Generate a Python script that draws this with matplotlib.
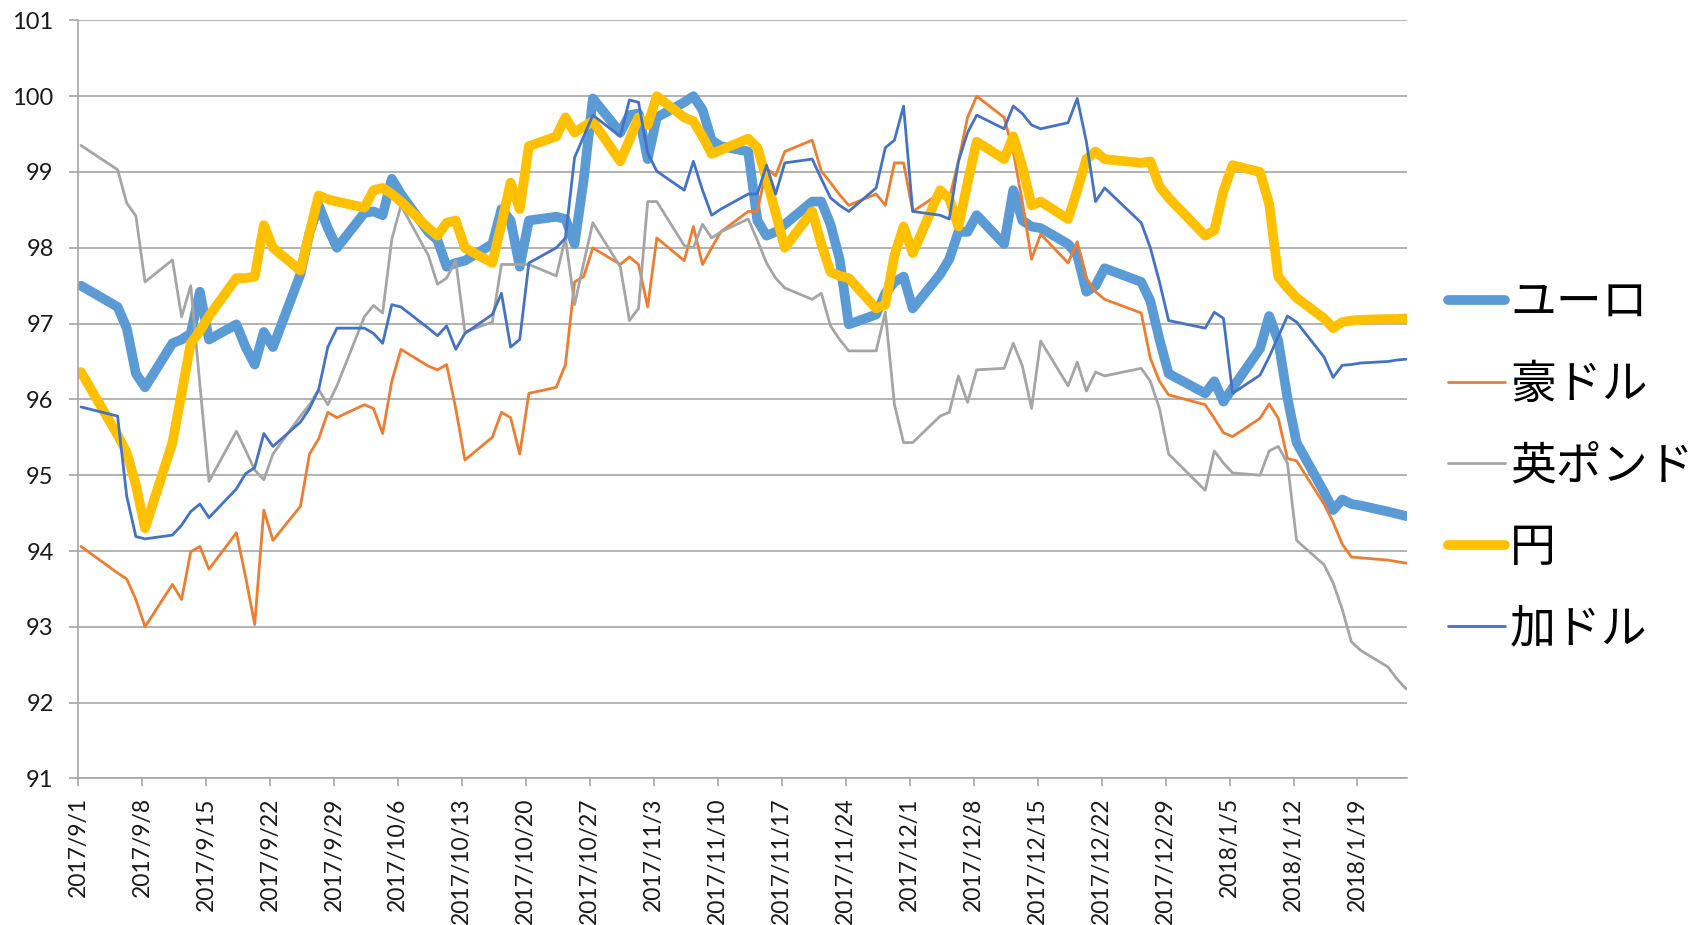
import matplotlib
matplotlib.use("Agg")
import matplotlib.pyplot as plt
import pandas as pd
from matplotlib.font_manager import FontProperties

plt.rcParams['font.family'] = ['Lato', 'Noto Sans CJK JP', 'DejaVu Sans']

# business days shown (holidays 9/4, 12/25, 1/1 absent)
dates = pd.bdate_range("2017-09-01", "2018-01-24").drop(
    pd.to_datetime(["2017-09-04", "2017-12-25", "2018-01-01"]))

series_names = ["ユーロ", "豪ドル", "英ポンド", "円", "加ドル"]

euro = [
    97.50, 97.22, 96.94, 96.34, 96.16, 96.74, 96.79, 96.87, 97.42, 96.79, 96.99, 96.69, 96.46, 96.89, 96.69, 97.65, 98.20, 98.56, 98.26, 98.00,
    98.46, 98.48, 98.43, 98.91, 98.71, 98.21, 98.10, 97.75, 97.80, 97.83, 98.05, 98.51, 98.36, 97.75, 98.36, 98.41, 98.38, 98.05, 98.90, 99.97, 99.52, 99.75,
    99.77, 99.17, 99.72, 99.92, 100.00, 99.82, 99.42, 99.34, 99.27, 98.36, 98.16, 98.21, 98.31, 98.61, 98.61, 98.31, 97.85, 96.99, 97.12, 97.40, 97.55, 97.62,
    97.20, 97.65, 97.85, 98.21, 98.21, 98.43, 98.05, 98.76, 98.36, 98.28, 98.26, 98.05, 97.90, 97.42, 97.50, 97.73, 97.55, 97.30, 96.79, 96.34,
    96.08, 96.24, 95.97, 96.15, 96.67, 97.10, 96.77, 96.02, 95.43, 94.78, 94.54, 94.68, 94.62, 94.60, 94.52, 94.49, 94.46]

aud = [
    94.06, 93.71, 93.63, 93.36, 93.00, 93.56, 93.36, 93.99, 94.06, 93.76, 94.24, 93.66, 93.03, 94.54, 94.14, 94.59, 95.28, 95.48, 95.83, 95.76,
    95.93, 95.88, 95.55, 96.24, 96.66, 96.44, 96.39, 96.46, 95.88, 95.20, 95.50, 95.83, 95.76, 95.28, 96.08, 96.16, 96.46, 97.55, 97.62, 98.00, 97.78, 97.88,
    97.78, 97.22, 98.13, 97.83, 98.28, 97.78, 98.00, 98.21, 98.48, 98.48, 99.05, 98.95, 99.27, 99.42, 99.01, 98.86, 98.70, 98.56, 98.71, 98.56, 99.12, 99.12,
    98.48, 98.72, 98.65, 99.14, 99.72, 100.00, 99.72, 99.27, 98.60, 97.85, 98.18, 97.80, 98.08, 97.60, 97.42, 97.32, 97.14, 96.54, 96.24, 96.06,
    95.93, 95.75, 95.56, 95.51, 95.75, 95.94, 95.75, 95.22, 95.19, 94.62, 94.38, 94.09, 93.92, 93.91, 93.88, 93.86, 93.84]

gbp = [
    99.35, 99.03, 98.59, 98.42, 97.55, 97.84, 97.09, 97.50, 96.20, 94.92, 95.58, 95.33, 95.07, 94.94, 95.28, 95.78, 95.93, 96.13, 95.93, 96.18,
    97.09, 97.24, 97.14, 98.11, 98.56, 97.90, 97.52, 97.60, 97.83, 96.89, 97.02, 97.78, 97.78, 97.78, 97.78, 97.63, 98.13, 97.25, 97.80, 98.33, 97.75, 97.04,
    97.20, 98.61, 98.61, 98.03, 98.00, 98.31, 98.13, 98.21, 98.38, 98.10, 97.80, 97.60, 97.47, 97.32, 97.40, 96.97, 96.79, 96.64, 96.64, 97.15, 95.93, 95.43,
    95.43, 95.78, 95.83, 96.31, 95.96, 96.39, 96.41, 96.74, 96.44, 95.88, 96.77, 96.18, 96.49, 96.11, 96.36, 96.31, 96.41, 96.24, 95.88, 95.28,
    94.80, 95.32, 95.16, 95.03, 95.00, 95.32, 95.38, 95.16, 94.14, 93.82, 93.58, 93.23, 92.80, 92.69, 92.47, 92.31, 92.18]

jpy = [
    96.36, 95.53, 95.30, 94.87, 94.30, 95.43, 96.08, 96.74, 96.90, 97.10, 97.60, 97.60, 97.62, 98.30, 98.00, 97.70, 98.20, 98.69, 98.64, 98.61,
    98.53, 98.76, 98.79, 98.71, 98.61, 98.26, 98.16, 98.33, 98.36, 98.00, 97.80, 98.31, 98.86, 98.51, 99.34, 99.47, 99.72, 99.52, 99.60, 99.67, 99.14, 99.42,
    99.72, 99.62, 100.00, 99.72, 99.67, 99.47, 99.24, 99.29, 99.44, 99.32, 98.91, 98.46, 98.00, 98.48, 98.05, 97.68, 97.63, 97.60, 97.20, 97.25, 97.90, 98.28,
    97.93, 98.76, 98.65, 98.28, 98.86, 99.40, 99.17, 99.47, 99.07, 98.56, 98.61, 98.38, 98.76, 99.17, 99.27, 99.17, 99.12, 99.14, 98.81, 98.66,
    98.16, 98.23, 98.75, 99.09, 99.00, 98.58, 97.62, 97.47, 97.34, 97.07, 96.94, 97.02, 97.04, 97.05, 97.06, 97.06, 97.07]

cad = [
    95.90, 95.78, 94.72, 94.19, 94.16, 94.21, 94.34, 94.52, 94.62, 94.44, 94.82, 95.02, 95.10, 95.55, 95.38, 95.70, 95.88, 96.13, 96.69, 96.94,
    96.94, 96.87, 96.74, 97.25, 97.22, 96.94, 96.84, 96.97, 96.66, 96.87, 97.12, 97.40, 96.69, 96.79, 97.80, 98.00, 98.13, 99.19, 99.47, 99.75, 99.47, 99.95,
    99.92, 99.25, 99.01, 98.76, 99.14, 98.76, 98.43, 98.51, 98.71, 98.71, 99.09, 98.71, 99.12, 99.17, 98.91, 98.66, 98.56, 98.48, 98.79, 99.32, 99.42, 99.87,
    98.48, 98.43, 98.38, 99.14, 99.52, 99.75, 99.57, 99.87, 99.77, 99.62, 99.57, 99.65, 99.97, 99.40, 98.61, 98.79, 98.33, 98.00, 97.55, 97.04,
    96.94, 97.15, 97.07, 96.08, 96.32, 96.56, 96.83, 97.10, 97.02, 96.56, 96.29, 96.45, 96.46, 96.48, 96.50, 96.52, 96.53]

tick_dates = pd.date_range("2017-09-01", "2018-01-19", freq="7D")
tick_labels = [f"{d.year}/{d.month}/{d.day}" for d in tick_dates]
y_ticks = list(range(91, 102))

colors = ["#5B9BD5", "#ED7D31", "#A5A5A5", "#FFC000", "#4472C4"]
widths = [7.0, 2.0, 2.0, 7.0, 2.0]
values = [euro, aud, gbp, jpy, cad]

fig = plt.figure(figsize=(17, 9.25), dpi=100)
ax = fig.add_axes([78 / 1700, 1 - 778.4 / 925, (1407 - 78) / 1700, (778.4 - 20.4) / 925])

x = dates + pd.Timedelta(hours=8)
handles = []
for name, vals, c, w in zip(series_names, values, colors, widths):
    ln, = ax.plot(x, vals, color=c, lw=w, label=name,
                  solid_joinstyle="round", solid_capstyle="round")
    handles.append(ln)

ax.set_ylim(91, 101)
ax.set_yticks(y_ticks)
ax.set_xlim(pd.Timestamp("2017-09-01"), pd.Timestamp("2018-01-24 10:00"))
ax.set_xticks(tick_dates)
ax.set_xticklabels(tick_labels, rotation=90)
ax.grid(axis="y", color="#a6a6a6", lw=1.2)
ax.set_axisbelow(True)
for s in ["top", "right"]:
    ax.spines[s].set_visible(False)
for s in ["left", "bottom"]:
    ax.spines[s].set_color("#a6a6a6")
    ax.spines[s].set_linewidth(1.2)
ax.tick_params(axis="both", colors="#a6a6a6", width=1.2, labelcolor="#1a1a1a")
ax.tick_params(axis="y", length=6.5, pad=11, labelsize=17)
ax.tick_params(axis="x", length=5.5, pad=8, labelsize=16.5)

leg = fig.legend(handles=handles, loc="center left",
                 bbox_to_anchor=(1448 / 1700, 1 - 466 / 925),
                 prop=FontProperties(family=["Noto Sans CJK JP", "DejaVu Sans"], size=33),
                 frameon=False, handlelength=1.25, handletextpad=0.1,
                 labelspacing=0.72, borderpad=0, borderaxespad=0)

fig.savefig("out.png", dpi=100, facecolor="white")
